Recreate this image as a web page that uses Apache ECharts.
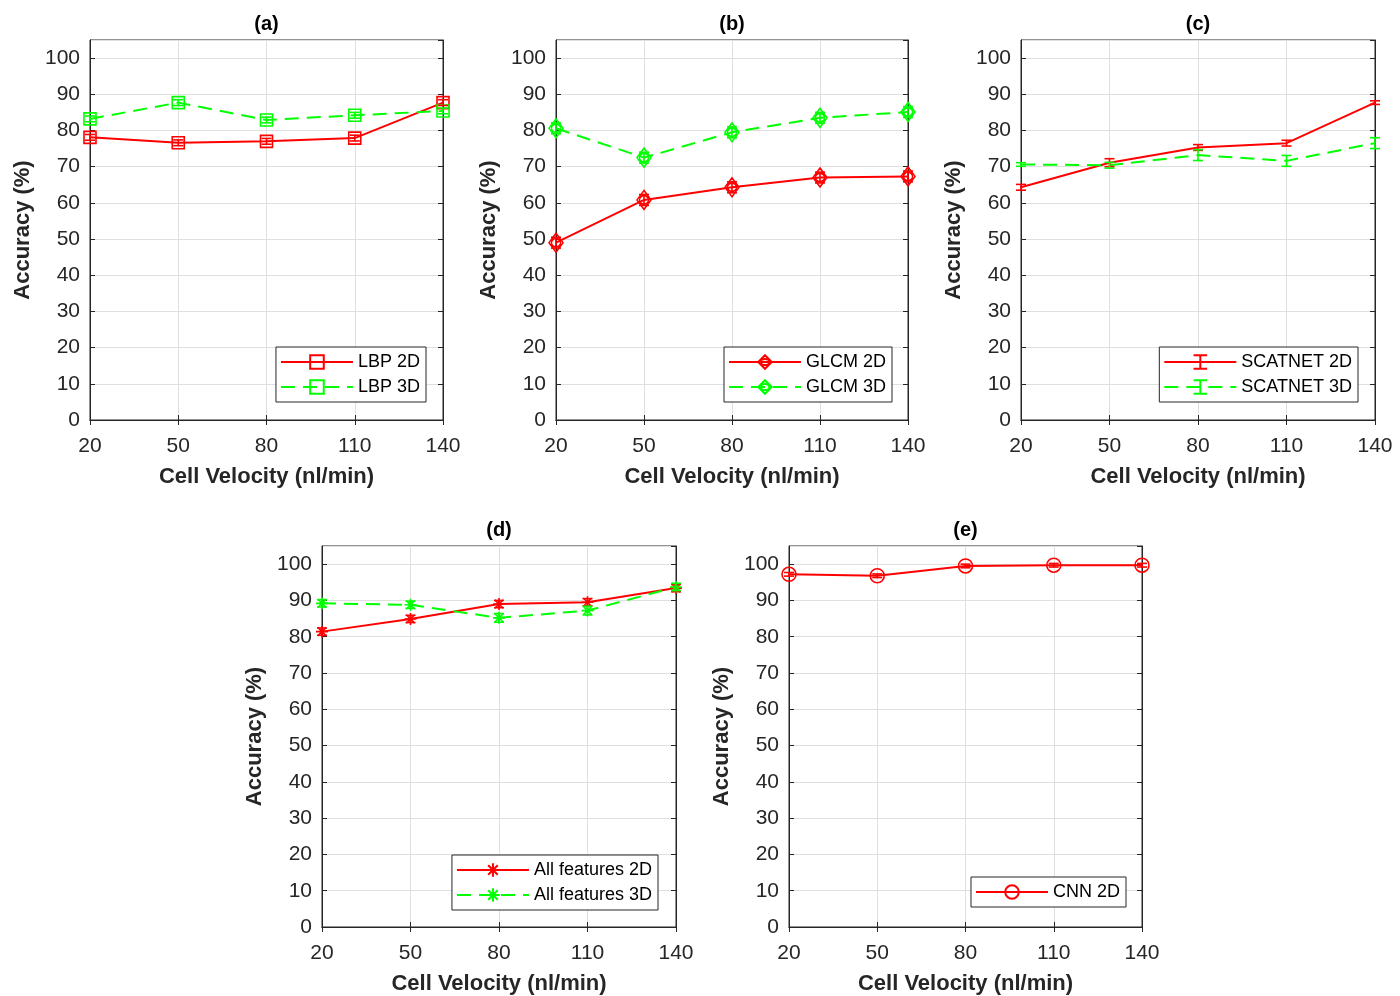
<!DOCTYPE html>
<html>
<head>
<meta charset="utf-8">
<script src="https://cdn.jsdelivr.net/npm/echarts@6/dist/echarts.min.js"></script>
<style>
  html, body { margin: 0; padding: 0; background: #fff; }
  #main { width: 1400px; height: 996px; }
</style>
</head>
<body>
<div id="main"></div>
<script>
/* data */
var velocities = ['20', '50', '80', '110', '140'];

var lbp2d = [78.1, 76.6, 77.0, 77.9, 87.7];
var lbp2dErr = [0.8, 0.8, 0.8, 0.8, 0.8];
var lbp3d = [83.2, 87.7, 82.9, 84.2, 85.4];
var lbp3dErr = [0.8, 0.8, 0.8, 0.8, 0.8];

var glcm2d = [49.0, 60.8, 64.3, 67.0, 67.3];
var glcm2dErr = [1.5, 1.5, 1.5, 1.5, 1.5];
var glcm3d = [80.6, 72.5, 79.5, 83.5, 85.1];
var glcm3dErr = [1.5, 1.5, 1.5, 1.5, 1.5];

var scat2d = [64.3, 71.1, 75.3, 76.5, 87.7];
var scat2dErr = [0.8, 1.1, 0.8, 0.8, 0.5];
var scat3d = [70.6, 70.4, 73.2, 71.6, 76.5];
var scat3dErr = [0.5, 0.8, 1.5, 1.5, 1.5];

var all2d = [81.4, 84.9, 89.0, 89.5, 93.4];
var all2dErr = [1.0, 1.0, 1.0, 1.0, 1.0];
var all3d = [89.2, 88.8, 85.2, 87.2, 93.7];
var all3dErr = [1.0, 1.0, 1.2, 1.2, 1.0];

var cnn2d = [97.2, 96.8, 99.5, 99.7, 99.7];
var cnn2dErr = [0.5, 0.5, 0.5, 0.5, 0.5];

/* look */
var RED = '#ff0000';
var GREEN = '#00ff00';
var TXT = '#262626';
var FONT = 'Liberation Sans';

var sqSym = 'rect';
var diaSym = 'path://M0,-10L7,0L0,10L-7,0Z M-4.5,0A4.5,4.5 0 1,0 4.5,0A4.5,4.5 0 1,0 -4.5,0Z';
var starSym = 'path://M0,-10L0,10M-10,0L10,0M-7,-7L7,7M-7,7L7,-7';
var barSym = 'path://M-5,-8L5,-8M0,-8L0,8M-5,8L5,8';
var circSym = 'circle';

var panels = [
  { title: '(a)', left: 90, top: 40, width: 353, height: 380, legendRight: 974, legendBottom: 594,
    lines: [
      { name: 'LBP 2D', data: lbp2d, err: lbp2dErr, color: RED, dash: false, sym: sqSym, size: 12 },
      { name: 'LBP 3D', data: lbp3d, err: lbp3dErr, color: GREEN, dash: true, sym: sqSym, size: 12 }
    ] },
  { title: '(b)', left: 556, top: 40, width: 352, height: 380, legendRight: 508, legendBottom: 594,
    lines: [
      { name: 'GLCM 2D', data: glcm2d, err: glcm2dErr, color: RED, dash: false, sym: diaSym, size: [14, 19] },
      { name: 'GLCM 3D', data: glcm3d, err: glcm3dErr, color: GREEN, dash: true, sym: diaSym, size: [14, 19] }
    ] },
  { title: '(c)', left: 1021, top: 40, width: 354, height: 380, legendRight: 42, legendBottom: 594,
    lines: [
      { name: 'SCATNET 2D', data: scat2d, err: scat2dErr, color: RED, dash: false, sym: barSym, size: 1, hide: true },
      { name: 'SCATNET 3D', data: scat3d, err: scat3dErr, color: GREEN, dash: true, sym: barSym, size: 1, hide: true }
    ] },
  { title: '(d)', left: 322, top: 546, width: 354, height: 381, legendRight: 742, legendBottom: 86,
    lines: [
      { name: 'All features 2D', data: all2d, err: all2dErr, color: RED, dash: false, sym: starSym, size: 12 },
      { name: 'All features 3D', data: all3d, err: all3dErr, color: GREEN, dash: true, sym: starSym, size: 12 }
    ] },
  { title: '(e)', left: 789, top: 546, width: 353, height: 381, legendRight: 274, legendBottom: 89,
    lines: [
      { name: 'CNN 2D', data: cnn2d, err: cnn2dErr, color: RED, dash: false, sym: circSym, size: 14 }
    ] }
];

var option = {
  animation: false,
  backgroundColor: '#fff',
  textStyle: { fontFamily: FONT },
  grid: [], xAxis: [], yAxis: [], series: [], legend: [], graphic: []
};

function errRender(color) {
  return function (params, api) {
    var lo = api.coord([api.value(0), api.value(1)]);
    var hi = api.coord([api.value(0), api.value(2)]);
    var w = 5;
    var st = { stroke: color, lineWidth: 1.6, fill: null };
    return {
      type: 'group',
      children: [
        { type: 'line', shape: { x1: lo[0], y1: lo[1], x2: hi[0], y2: hi[1] }, style: st },
        { type: 'line', shape: { x1: lo[0] - w, y1: lo[1], x2: lo[0] + w, y2: lo[1] }, style: st },
        { type: 'line', shape: { x1: hi[0] - w, y1: hi[1], x2: hi[0] + w, y2: hi[1] }, style: st }
      ]
    };
  };
}

panels.forEach(function (p, i) {
  option.grid.push({
    left: p.left, top: p.top, width: p.width, height: p.height,
    show: true, borderColor: TXT, borderWidth: 1, backgroundColor: '#fff'
  });
  // bottom axis
  option.xAxis.push({
    type: 'category', gridIndex: i, data: velocities, boundaryGap: false,
    name: 'Cell Velocity (nl/min)', nameLocation: 'middle', nameGap: 46,
    nameTextStyle: { fontFamily: FONT, fontSize: 22, fontWeight: 'bold', color: TXT },
    axisLine: { lineStyle: { color: TXT, width: 1 } },
    axisTick: { inside: true, length: 5, alignWithLabel: true, lineStyle: { color: TXT } },
    axisLabel: { fontFamily: FONT, fontSize: 21, color: TXT, margin: 16 },
    splitLine: { show: true, lineStyle: { color: '#dfdfdf', width: 1 } }
  });
  // top mirror axis (ticks only)
  option.xAxis.push({
    type: 'category', gridIndex: i, data: velocities, boundaryGap: false, position: 'top',
    axisLine: { lineStyle: { color: TXT, width: 1 } },
    axisTick: { inside: true, length: 5, alignWithLabel: true, lineStyle: { color: TXT } },
    axisLabel: { show: false }, splitLine: { show: false }
  });
  option.yAxis.push({
    type: 'value', gridIndex: i, min: 0, max: 105, interval: 10,
    name: 'Accuracy (%)', nameLocation: 'middle', nameGap: 56,
    nameTextStyle: { fontFamily: FONT, fontSize: 22, fontWeight: 'bold', color: TXT },
    axisLine: { show: true, lineStyle: { color: TXT, width: 1 } },
    axisTick: { show: true, inside: true, length: 5, lineStyle: { color: TXT } },
    axisLabel: { fontFamily: FONT, fontSize: 21, color: TXT, margin: 10, showMaxLabel: false,
      formatter: function (v) { return v > 100 ? '' : v; } },
    splitLine: { show: true, lineStyle: { color: '#dfdfdf', width: 1 } }
  });
  option.yAxis.push({
    type: 'value', gridIndex: i, min: 0, max: 105, interval: 10, position: 'right',
    axisLine: { show: true, lineStyle: { color: TXT, width: 1 } },
    axisTick: { show: true, inside: true, length: 5, lineStyle: { color: TXT } },
    axisLabel: { show: false }, splitLine: { show: false }
  });

  var names = [];
  p.lines.forEach(function (l) {
    names.push(l.name);
    option.series.push({
      name: l.name, type: 'line', xAxisIndex: 2 * i, yAxisIndex: 2 * i,
      data: l.data, symbol: l.sym, symbolSize: l.size, showSymbol: !l.hide,
      z: 3,
      lineStyle: { color: l.color, width: 2, type: l.dash ? [14, 8] : 'solid' },
      itemStyle: { color: 'rgba(0,0,0,0)', borderColor: l.color, borderWidth: 1.6 }
    });
    option.series.push({
      name: l.name + ' err', type: 'custom', xAxisIndex: 2 * i, yAxisIndex: 2 * i,
      renderItem: errRender(l.color), z: 4,
      data: l.data.map(function (v, k) { return [k, v - l.err[k], v + l.err[k]]; })
    });
  });

  option.legend.push({
    data: names, orient: 'vertical',
    right: p.legendRight, bottom: p.legendBottom,
    backgroundColor: '#fff', borderColor: TXT, borderWidth: 1, borderRadius: 0,
    padding: [6, 6, 6, 4], itemGap: 7, itemWidth: 72, itemHeight: 17,
    textStyle: { fontFamily: FONT, fontSize: 18, color: '#000' }
  });

  option.graphic.push({
    type: 'text', x: p.left + p.width / 2, y: p.top - 16,
    style: { text: p.title, align: 'center', verticalAlign: 'middle',
      font: 'bold 20px "Liberation Sans"', fill: '#000' }
  });
});

var myChart = echarts.init(document.getElementById('main'));
myChart.setOption(option);
</script>
</body>
</html>
